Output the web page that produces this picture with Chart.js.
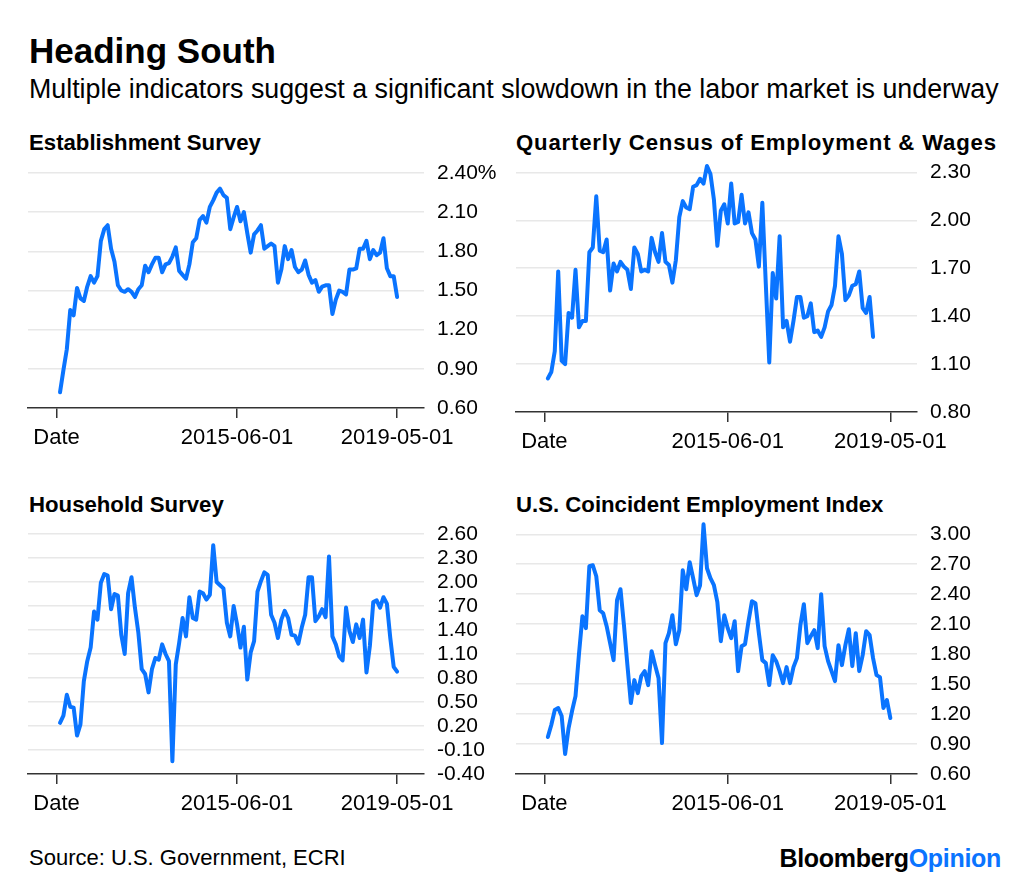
<!DOCTYPE html>
<html>
<head>
<meta charset="utf-8">
<script src="https://cdn.jsdelivr.net/npm/chart.js@4.4.1/dist/chart.umd.min.js"></script>
<style>
html,body{margin:0;padding:0;background:#fff;}
#page{position:relative;width:1024px;height:883px;overflow:hidden;background:#fff;font-family:'Liberation Sans',Arial,Helvetica,sans-serif;color:#000;}
.t{position:absolute;white-space:nowrap;line-height:1;}
canvas{position:absolute;left:0;top:0;}
</style>
</head>
<body>
<div id="page">
  <div class="t" style="left:29px;top:33px;font-size:35px;font-weight:bold;">Heading South</div>
  <div class="t" style="left:29px;top:76px;font-size:26.8px;">Multiple indicators suggest a significant slowdown in the labor market is underway</div>
  <div class="t" style="left:29px;top:132px;font-size:22.2px;font-weight:bold;">Establishment Survey</div>
  <div class="t" style="left:516px;top:132px;font-size:22.2px;font-weight:bold;letter-spacing:0.8px;">Quarterly Census of Employment &amp; Wages</div>
  <div class="t" style="left:29px;top:494px;font-size:22.2px;font-weight:bold;">Household Survey</div>
  <div class="t" style="left:516px;top:494px;font-size:22.2px;font-weight:bold;">U.S. Coincident Employment Index</div>
  <div class="t" style="left:29px;top:847px;font-size:22px;">Source: U.S. Government, ECRI</div>
  <div class="t" style="right:23px;top:846px;font-size:25px;font-weight:bold;letter-spacing:-0.3px;"><span style="color:#000">Bloomberg</span><span style="color:#0a74ff">Opinion</span></div>
  <canvas id="c1" width="1024" height="883"></canvas>
  <canvas id="c2" width="1024" height="883"></canvas>
  <canvas id="c3" width="1024" height="883"></canvas>
  <canvas id="c4" width="1024" height="883"></canvas>
</div>
<script>
// ---- categories: first label is the header "Date", then monthly dates
const months = ['Date'];
for (let y = 2011, m = 2; y < 2019 || (y === 2019 && m <= 5); ) {
  months.push(y + '-' + String(m).padStart(2, '0') + '-01');
  m++; if (m > 12) { m = 1; y++; }
}
const xTickLabels = ['Date', '2015-06-01', '2019-05-01'];

// ---- series values (one per month starting 2011-02)
const establishment = [
  0.72,0.89,1.05,1.35,1.31,1.52,1.44,1.42,1.53,1.61,
  1.56,1.61,1.88,1.97,2.00,1.82,1.72,1.54,1.50,1.49,
  1.51,1.49,1.45,1.51,1.54,1.69,1.64,1.70,1.75,1.75,
  1.64,1.70,1.71,1.76,1.83,1.65,1.62,1.59,1.70,1.87,
  1.90,2.04,2.07,2.02,2.14,2.19,2.25,2.28,2.23,2.21,
  1.97,2.06,2.14,2.03,2.10,1.94,1.79,1.93,1.96,2.00,
  1.82,1.84,1.86,1.84,1.56,1.66,1.84,1.74,1.81,1.68,
  1.64,1.66,1.73,1.62,1.56,1.58,1.49,1.53,1.54,1.54,
  1.32,1.43,1.50,1.49,1.47,1.66,1.66,1.67,1.82,1.82,
  1.88,1.74,1.81,1.77,1.79,1.90,1.67,1.61,1.61,1.45
];
const qcew = [
  1.01,1.05,1.18,1.68,1.12,1.10,1.42,1.39,1.69,1.33,
  1.37,1.37,1.80,1.83,2.15,1.81,1.80,1.88,1.56,1.73,
  1.68,1.74,1.71,1.69,1.57,1.83,1.79,1.68,1.69,1.68,
  1.89,1.80,1.74,1.92,1.74,1.72,1.61,1.75,2.02,2.12,
  2.08,2.07,2.21,2.22,2.26,2.23,2.34,2.29,2.13,1.84,
  2.06,2.10,1.98,2.23,1.98,1.99,2.16,1.98,2.05,1.92,
  1.88,1.71,2.11,1.60,1.11,1.67,1.51,1.90,1.33,1.37,
  1.24,1.37,1.52,1.52,1.39,1.40,1.48,1.30,1.31,1.27,
  1.33,1.43,1.47,1.59,1.90,1.79,1.50,1.53,1.59,1.60,
  1.68,1.45,1.42,1.52,1.27
];
const household = [
  0.24,0.33,0.59,0.44,0.43,0.08,0.22,0.76,1.01,1.18,
  1.63,1.53,1.99,2.10,2.08,1.66,1.85,1.83,1.34,1.10,
  1.86,2.06,1.68,1.37,0.91,0.85,0.62,0.91,1.05,1.03,
  1.22,1.10,1.01,-0.24,0.97,1.24,1.55,1.32,1.81,1.55,
  1.53,1.88,1.86,1.78,1.84,2.46,2.00,1.96,1.92,1.49,
  1.32,1.70,1.47,1.18,1.44,0.78,1.12,1.26,1.88,2.01,
  2.12,2.09,1.59,1.49,1.30,1.53,1.64,1.55,1.34,1.33,
  1.23,1.43,1.59,2.06,2.06,1.51,1.57,1.66,1.56,2.32,
  1.32,1.22,1.07,1.02,1.68,1.39,1.25,1.47,1.30,1.53,
  0.87,1.20,1.75,1.77,1.68,1.81,1.73,1.30,0.94,0.88
];
const coincident = [
  0.97,1.09,1.24,1.26,1.18,0.80,1.06,1.23,1.38,1.80,
  2.18,2.06,2.68,2.69,2.58,2.24,2.21,2.08,1.91,1.74,
  2.34,2.45,2.09,1.69,1.31,1.54,1.41,1.58,1.63,1.49,
  1.83,1.69,1.56,0.91,1.91,2.01,2.19,1.90,2.04,2.64,
  2.45,2.72,2.56,2.39,2.49,3.10,2.66,2.56,2.49,2.32,
  1.93,2.19,2.06,1.96,2.13,1.63,1.88,1.90,2.13,2.33,
  2.31,2.01,1.74,1.71,1.49,1.79,1.73,1.63,1.51,1.67,
  1.51,1.67,1.76,2.09,2.30,1.91,1.98,2.04,1.86,2.40,
  1.88,1.73,1.63,1.53,1.89,1.69,1.89,2.05,1.68,2.01,
  1.63,1.79,2.03,1.99,1.76,1.59,1.57,1.26,1.34,1.16
];

// ---- y tick values
const estTicks = [0.6, 0.9, 1.2, 1.5, 1.8, 2.1, 2.4];
const qcewTicks = [0.8, 1.1, 1.4, 1.7, 2.0, 2.3];
const houseTicks = [-0.4, -0.1, 0.2, 0.5, 0.8, 1.1, 1.4, 1.7, 2.0, 2.3, 2.6];
const coinTicks = [0.6, 0.9, 1.2, 1.5, 1.8, 2.1, 2.4, 2.7, 3.0];

const LINE = '#0a74ff';
const FONT = "'Liberation Sans', Arial, Helvetica, sans-serif";
const W = 1024, H = 883;

function panel(id, values, yTicks, yMax, area, xMin, xMax, pctTop) {
  const yMin = yTicks[0];
  const topTick = yTicks[yTicks.length - 1];
  const xTickIdx = xTickLabels.map(l => months.indexOf(l));
  new Chart(document.getElementById(id), {
    type: 'line',
    data: {
      datasets: [{
        data: values.map((v, i) => ({ x: i + 1, y: v })),
        borderColor: LINE,
        borderWidth: 4,
        pointRadius: 0,
        tension: 0,
        fill: false,
        borderJoinStyle: 'round',
        borderCapStyle: 'round'
      }]
    },
    options: {
      responsive: false,
      animation: false,
      events: [],
      layout: { padding: { left: area.left, top: area.top, right: 0, bottom: 0 } },
      plugins: { legend: { display: false }, tooltip: { enabled: false } },
      scales: {
        x: {
          type: 'linear',
          min: xMin, max: xMax,
          afterFit: s => { s.height = H - area.bottom; },
          afterBuildTicks: s => { s.ticks = xTickIdx.map(v => ({ value: v })); },
          grid: { display: true, drawOnChartArea: false, drawTicks: true, tickLength: 10, color: '#333', lineWidth: 1.5 },
          border: { display: true, color: '#333', width: 1.6 },
          ticks: {
            autoSkip: false, maxRotation: 0, minRotation: 0, padding: 7,
            color: '#000', font: { family: FONT, size: 22 },
            callback: v => months[v]
          }
        },
        y: {
          type: 'linear',
          position: 'right',
          min: yMin, max: yMax,
          afterFit: s => { s.width = W - area.right; },
          afterBuildTicks: s => { s.ticks = yTicks.map(v => ({ value: v })); },
          grid: {
            drawTicks: false, lineWidth: 1.5,
            color: c => (Math.abs(c.tick.value - yMin) < 1e-9 ? 'rgba(0,0,0,0)' : '#e8e8e8')
          },
          border: { display: false },
          ticks: {
            autoSkip: false, padding: 13, color: '#000',
            font: { family: FONT, size: 21 },
            callback: v => v.toFixed(2) + (pctTop && Math.abs(v - topTick) < 1e-9 ? '%' : '')
          }
        }
      }
    }
  });
}

panel('c1', establishment, estTicks, 2.4, { left: 28, top: 173, right: 424, bottom: 408 }, -8.4, 107.9, true);
panel('c2', qcew, qcewTicks, 2.39, { left: 516, top: 158, right: 917, bottom: 412 }, -8.2, 107.7, false);
panel('c3', household, houseTicks, 2.6, { left: 28, top: 534, right: 424, bottom: 774 }, -8.4, 107.9, false);
panel('c4', coincident, coinTicks, 3.153, { left: 516, top: 519, right: 917, bottom: 774 }, -8.2, 107.7, false);
</script>
</body>
</html>
